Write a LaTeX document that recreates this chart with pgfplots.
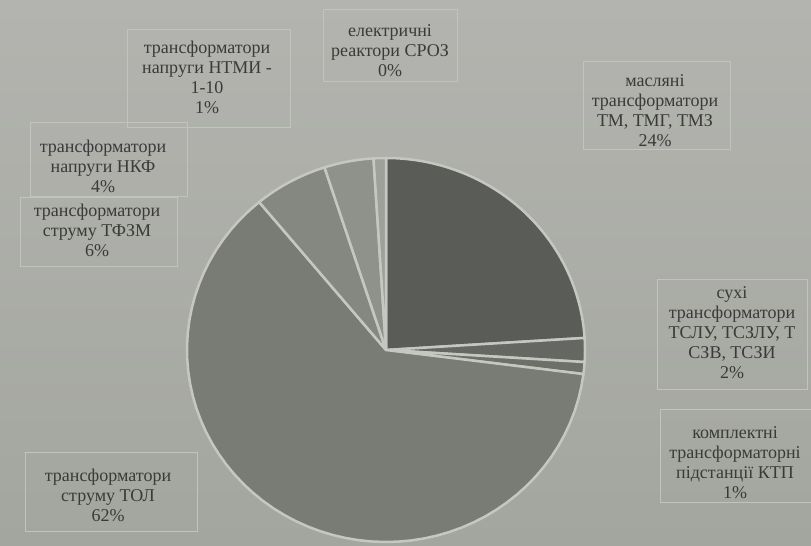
\documentclass[border=0pt]{standalone}
\usepackage{fontspec}
\setmainfont{Liberation Serif}
\usepackage{pgfplots}
\usepackage{pgfplotstable}
\pgfplotsset{compat=1.18}
\definecolor{c0}{HTML}{5A5C57}
\definecolor{c1}{HTML}{656762}
\definecolor{c2}{HTML}{6D6F69}
\definecolor{c3}{HTML}{797B75}
\definecolor{c4}{HTML}{858781}
\definecolor{c5}{HTML}{8F918B}
\definecolor{c6}{HTML}{9EA09A}
\definecolor{c7}{HTML}{A5A7A1}
\definecolor{sep}{HTML}{C6C7C2}
\definecolor{txt}{HTML}{3A3B38}
\definecolor{boxc}{HTML}{C2C3BE}
\definecolor{bgtop}{HTML}{B3B4AF}
\definecolor{bgbot}{HTML}{A3A59F}

% share of each type, %, clockwise from 12 o'clock
\pgfplotstableread{
value
24
2
1
62
6
4
1
0
}\piedata

\begin{document}
\begin{tikzpicture}
\shade[top color=bgtop, bottom color=bgbot] (0,0) rectangle (811pt,546pt);
\useasboundingbox (0,0) rectangle (811pt,546pt);
\begin{axis}[hide axis, x=199pt, y=192pt, xmin=-1, xmax=1, ymin=-1, ymax=1,
  clip=false, at={(386pt,196pt)}, anchor=center]
\def\cum{0}
\pgfplotsforeachungrouped \i in {0,...,7}{%
  \pgfplotstablegetelem{\i}{value}\of\piedata
  \let\vv\pgfplotsretval
  \pgfmathsetmacro{\angA}{\cum*3.6}%
  \pgfmathsetmacro{\angB}{(\cum+\vv)*3.6}%
  \pgfmathsetmacro{\cum}{\cum+\vv}%
  \pgfmathtruncatemacro{\flag}{\vv>0}%
  \ifnum\flag=1
    \edef\temp{\noexpand\addplot[fill=c\i, draw=sep, line width=2.5pt, line join=round, domain=\angA:\angB, samples=60] ({sin(x)},{cos(x)}) -- (axis cs:0,0) -- cycle;}%
    \temp
  \fi
}
\end{axis}

\tikzset{lbl/.style={align=center, text=txt, font=\fontsize{18}{20}\selectfont, inner sep=0pt}}
% boxes
\draw[boxc, line width=1pt] (127pt,418pt) rectangle (290pt,516pt);
\draw[boxc, line width=1pt] (323pt,464pt) rectangle (457pt,536pt);
\draw[boxc, line width=1pt] (583pt,396pt) rectangle (730pt,484pt);
\draw[boxc, line width=1pt] (30pt,349pt) rectangle (187pt,423pt);
\draw[boxc, line width=1pt] (20pt,279pt) rectangle (177pt,348pt);
\draw[boxc, line width=1pt] (657pt,156pt) rectangle (807pt,266pt);
\draw[boxc, line width=1pt] (660pt,43pt) rectangle (815pt,136pt);
\draw[boxc, line width=1pt] (25pt,14pt) rectangle (197pt,93pt);
% labels
\node[lbl] at (207pt,469pt) {трансформатори\\напруги НТМИ -\\1-10\\1\%};
\node[lbl] at (390pt,495pt) {електричні\\реактори СРОЗ\\0\%};
\node[lbl] at (655pt,435pt) {масляні\\трансформатори\\ТМ, ТМГ, ТМЗ\\24\%};
\node[lbl] at (103pt,380pt) {трансформатори\\напруги НКФ\\4\%};
\node[lbl] at (97pt,316pt) {трансформатори\\струму ТФЗМ\\6\%};
\node[lbl] at (732pt,213pt) {сухі\\трансформатори\\ТСЛУ, ТСЗЛУ, Т\\СЗВ, ТСЗИ\\2\%};
\node[lbl] at (735pt,83pt) {комплектні\\трансформаторні\\підстанції КТП\\1\%};
\node[lbl] at (108pt,51pt) {трансформатори\\струму ТОЛ\\62\%};
\end{tikzpicture}
\end{document}
